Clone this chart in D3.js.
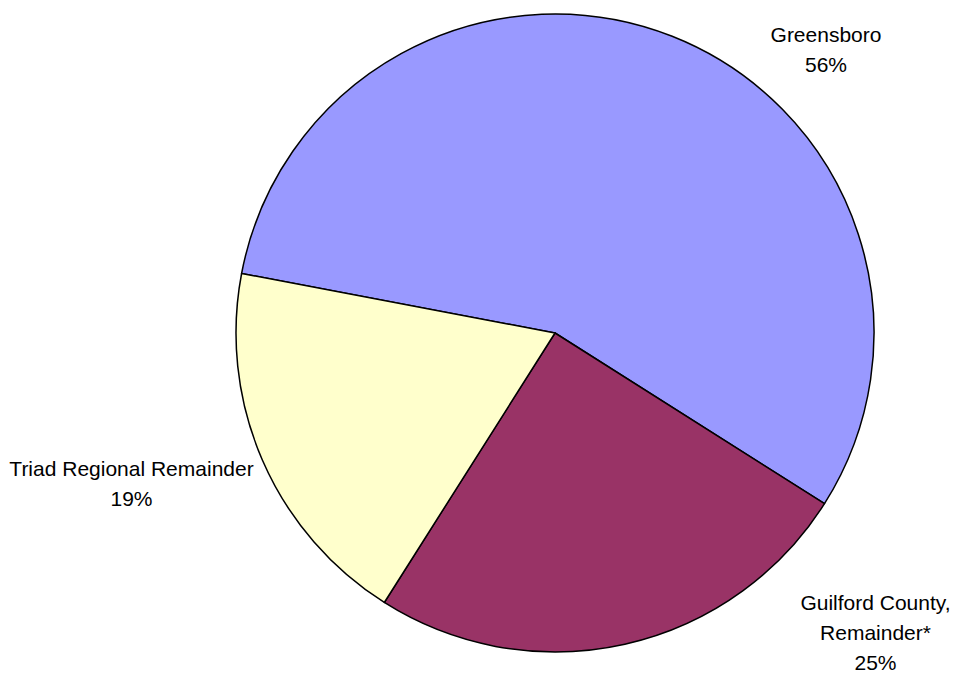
<!DOCTYPE html>
<html>
<head>
<meta charset="utf-8">
<script src="https://cdn.jsdelivr.net/npm/d3@7"></script>
<style>
  html, body { margin: 0; padding: 0; background: #fff; }
  svg { display: block; }
  text { font-family: "Liberation Sans", Arial, sans-serif; fill: #000; }
</style>
</head>
<body>
<svg id="chart" width="958" height="675"></svg>
<script>
// Share of the total, by area
const categories = ["Greensboro", "Guilford County, Remainder*", "Triad Regional Remainder"];
const values = [56, 25, 19];
const labelLines = [
  ["Greensboro", "56%"],
  ["Guilford County,", "Remainder*", "25%"],
  ["Triad Regional Remainder", "19%"]
];
const colors = ["#9999FF", "#993366", "#FFFFCC"];

// Layout
const width = 958, height = 675;
const cx = 555, cy = 333, radius = 319;
const startDeg = -79.25;
// Label block anchors (centre x, first baseline y) and line spacing
const labelAnchors = [[826, 41.5], [875.5, 609.5], [131.5, 476]];
const lineHeight = 30;

const svg = d3.select("#chart");
const g = svg.append("g").attr("transform", `translate(${cx},${cy})`);

const pie = d3.pie()
  .sort(null)
  .startAngle(startDeg * Math.PI / 180)
  .endAngle(startDeg * Math.PI / 180 + 2 * Math.PI);

const arc = d3.arc().innerRadius(0).outerRadius(radius);

const arcs = pie(values);

g.selectAll("path.slice")
  .data(arcs)
  .join("path")
  .attr("class", "slice")
  .attr("d", arc)
  .attr("fill", (d, i) => colors[i])
  .attr("stroke", "#000")
  .attr("stroke-width", 1.5)
  .attr("stroke-linejoin", "round");

// Category labels with percentages
const labels = svg.selectAll("text.label")
  .data(categories)
  .join("text")
  .attr("class", "label")
  .attr("text-anchor", "middle")
  .attr("font-size", 21)
  .attr("x", (d, i) => labelAnchors[i][0])
  .attr("y", (d, i) => labelAnchors[i][1]);

labels.each(function (d, i) {
  d3.select(this).selectAll("tspan")
    .data(labelLines[i])
    .join("tspan")
    .attr("x", labelAnchors[i][0])
    .attr("dy", (t, j) => j === 0 ? 0 : lineHeight)
    .text(t => t);
});
</script>
</body>
</html>
